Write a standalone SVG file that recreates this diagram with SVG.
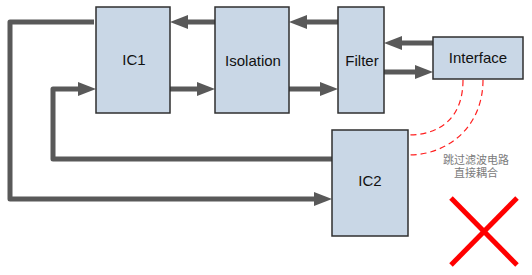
<svg xmlns="http://www.w3.org/2000/svg" width="532" height="275" viewBox="0 0 532 275">
<defs>
<style>
.box{fill:#c9d7e6;stroke:#2f2f2f;stroke-width:1.5}
.lbl{font-family:"Liberation Sans",Arial,sans-serif;font-size:15px;fill:#111;text-anchor:middle}
.arr{fill:none;stroke:#595959;stroke-width:5;stroke-linejoin:round;marker-end:url(#ah)}
.dash{fill:none;stroke:#ff2020;stroke-width:1.2;stroke-dasharray:6 4}
.note{font-family:"Liberation Sans","Noto Sans CJK SC",sans-serif;font-size:11px;fill:#7a7a7a;text-anchor:middle}
</style>
<marker id="ah" viewBox="0 0 18 14" refX="6" refY="7" markerWidth="18" markerHeight="14" markerUnits="userSpaceOnUse" orient="auto">
<path d="M0,0 L18,7 L0,14 Z" fill="#595959"/>
</marker>
</defs>
<rect width="532" height="275" fill="#fff"/>
<g id="connectors">
<path class="arr" d="M94,22 H10 V199 H320"/>
<path class="arr" d="M332,159 H53 V89 H84"/>
<path class="arr" d="M215,22 H182"/>
<path class="arr" d="M170,89 H203"/>
<path class="arr" d="M338,22 H301"/>
<path class="arr" d="M289,89 H326"/>
<path class="arr" d="M433,43 H396"/>
<path class="arr" d="M384,72 H421"/>
<path class="dash" d="M463,80 C463,118 440,135 408,135"/>
<path class="dash" d="M483,80 C483,125 450,155 408,155"/>
</g>
<g id="IC1"><rect class="box" x="96" y="7" width="74" height="106"/><text class="lbl" x="134" y="65">IC1</text></g>
<g id="Isolation"><rect class="box" x="215" y="7" width="74" height="106"/><text class="lbl" x="253" y="66">Isolation</text></g>
<g id="Filter"><rect class="box" x="338" y="7" width="46" height="106"/><text class="lbl" x="362" y="66">Filter</text></g>
<g id="Interface"><rect class="box" x="433" y="37" width="90" height="42"/><text class="lbl" x="478" y="63">Interface</text></g>
<g id="IC2"><rect class="box" x="332" y="130" width="76" height="106"/><text class="lbl" x="370" y="186">IC2</text></g>
<g id="note">
<text class="note" x="476" y="164">跳过滤波电路</text>
<text class="note" x="476" y="177">直接耦合</text>
</g>
<g id="cross" stroke="#ff0000" stroke-width="5">
<line x1="451" y1="198" x2="517" y2="265"/>
<line x1="517" y1="198" x2="451" y2="265"/>
</g>
</svg>
